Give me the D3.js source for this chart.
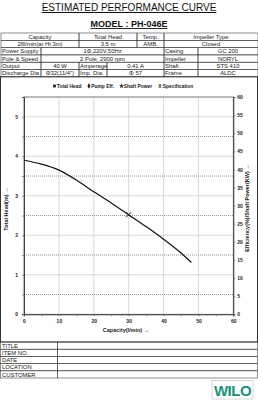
<!DOCTYPE html>
<html>
<head>
<meta charset="utf-8">
<script src="https://cdn.jsdelivr.net/npm/d3@7"></script>
<style>
  body { margin: 0; background: #fff; }
  svg { display: block; }
</style>
</head>
<body>
<script>
// head curve (capacity l/min, head m)
var capacity = [0, 5, 10, 15, 20, 25, 30, 35, 40, 45, 48];
var head = [3.9, 3.8, 3.65, 3.4, 3.1, 2.82, 2.52, 2.22, 1.9, 1.55, 1.31];
var spec = [30, 2.52];

var headTicks = [0, 1, 2, 3, 4, 5];
var rightTicks = [0, 5, 10, 15, 20, 25, 30, 35, 40, 45, 50, 55, 60];
var capTicks = [0, 10, 20, 30, 40, 50, 60];

var legendNames = ["Total Head", "Pump Eff.", "Shaft Power", "X Specification"];
var legendSyms = [d3.symbolSquare, d3.symbolDiamond, d3.symbolStar, null];

var specRows = [
  [["Capacity", 78], ["Total Head", 58], ["Temp.", 27], ["Impeller Type", 94]],
  [["28l/min(at Ht 3m)", 78], ["3.5 m", 58], ["AMB.", 27], ["Closed", 94]],
  [["Power Supply", 40, "l"], ["1Φ,220V,50Hz", 123], ["Casing", 34, "l"], ["GC 200", 60]],
  [["Pole & Speed", 40, "l"], ["2 Pole, 2900 rpm", 123], ["Impeller", 34, "l"], ["NORYL", 60]],
  [["Output", 40, "l"], ["40 W", 38], ["Amperage", 28, "l"], ["0.41 A", 57], ["Shaft", 34, "l"], ["STS 410", 60]],
  [["Discharge Dia", 40, "l"], ["Φ32(11/4\")", 38], ["Imp. Dia.", 28, "l"], ["Φ 57", 57], ["Frame", 34, "l"], ["ALDC", 60]]
];
var footRows = ["TITLE", "ITEM NO.", "DATE", "LOCATION", "CUSTOMER"];

var W = 258, H = 400;
var svg = d3.select("body").append("svg").attr("width", W).attr("height", H);
var tf = "'Liberation Sans', Arial, sans-serif";

// titles
svg.append("text").attr("x", 129).attr("y", 11).attr("text-anchor", "middle")
  .attr("font-family", tf).attr("font-size", 10).attr("fill", "#111")
  .attr("text-decoration", "underline").text("ESTIMATED PERFORMANCE CURVE");
svg.append("text").attr("x", 129).attr("y", 27).attr("text-anchor", "middle")
  .attr("font-family", tf).attr("font-size", 9).attr("font-weight", "bold").attr("fill", "#111")
  .attr("text-decoration", "underline").text("MODEL : PH-046E");

// spec table
var tTop = 33, rowH = 7.3, tX = 1;
specRows.forEach(function(row, i) {
  var x = tX, y = tTop + i * rowH;
  row.forEach(function(c) {
    svg.append("rect").attr("x", x).attr("y", y).attr("width", c[1]).attr("height", rowH)
      .attr("fill", "none").attr("stroke", "#444").attr("stroke-width", 0.6);
    svg.append("text")
      .attr("x", c[2] === "l" ? x + 1 : x + c[1] / 2)
      .attr("y", y + rowH / 2 + 2.1)
      .attr("text-anchor", c[2] === "l" ? "start" : "middle")
      .attr("font-family", tf).attr("font-size", 5.9).attr("fill", "#222").text(c[0]);
    x += c[1];
  });
});

// scales
var x = d3.scaleLinear().domain([0, 60]).range([24, 233.3]);
var yL = d3.scaleLinear().domain([0, 5.5]).range([314.3, 97]);
var yR = d3.scaleLinear().domain([0, 60]).range([314.3, 97]);

// grid
var g = svg.append("g");
g.selectAll(".vg").data(capTicks.slice(1, -1)).enter().append("line")
  .attr("x1", x).attr("x2", x).attr("y1", yL(0)).attr("y2", yL(5.5))
  .attr("stroke", "#c8c8c8").attr("stroke-width", 0.7);
g.selectAll(".hg").data(headTicks.slice(1)).enter().append("line")
  .attr("x1", x(0)).attr("x2", x(60)).attr("y1", yL).attr("y2", yL)
  .attr("stroke", "#c8c8c8").attr("stroke-width", 0.7);
g.selectAll(".hd").data([0.5, 1.5, 2.5, 3.5, 4.5]).enter().append("line")
  .attr("x1", x(0)).attr("x2", x(60)).attr("y1", yL).attr("y2", yL)
  .attr("stroke", "#777").attr("stroke-width", 0.8).attr("stroke-dasharray", "1,1");

// plot frame
svg.append("rect").attr("x", x(0)).attr("y", yL(5.5))
  .attr("width", x(60) - x(0)).attr("height", yL(0) - yL(5.5))
  .attr("fill", "none").attr("stroke", "#555").attr("stroke-width", 0.8);

// axes
var axL = svg.append("g").attr("transform", "translate(" + x(0) + ",0)")
  .call(d3.axisLeft(yL).tickValues(d3.range(0, 5.51, 0.5)).tickSize(2)
    .tickFormat(function(d) { return d % 1 === 0 ? d : ""; }));
var axR = svg.append("g").attr("transform", "translate(" + x(60) + ",0)")
  .call(d3.axisRight(yR).tickValues(rightTicks).tickSize(2));
var axB = svg.append("g").attr("transform", "translate(0," + yL(0) + ")")
  .call(d3.axisBottom(x).tickValues(d3.range(0, 61, 5)).tickSize(2)
    .tickFormat(function(d) { return d % 10 === 0 ? d : ""; }));
[axL, axR, axB].forEach(function(a) {
  a.select(".domain").attr("stroke", "#333").attr("stroke-width", 0.9);
  a.selectAll(".tick line").attr("stroke", "#555").attr("stroke-width", 0.6);
  a.selectAll("text").attr("font-family", tf).attr("font-size", 5).attr("font-weight", "bold").attr("fill", "#222");
});
axL.selectAll("text").attr("x", -6);
axR.selectAll("text").attr("x", 4);
axB.selectAll("text").attr("y", 5);

// axis titles
svg.append("text").attr("transform", "translate(8,209) rotate(-90)").attr("text-anchor", "middle")
  .attr("font-family", tf).attr("font-size", 5.5).attr("font-weight", "bold").attr("fill", "#222")
  .text("Total Head(m) →");
svg.append("text").attr("transform", "translate(249,208) rotate(-90)").attr("text-anchor", "middle")
  .attr("font-family", tf).attr("font-size", 5.5).attr("font-weight", "bold").attr("fill", "#222")
  .text("Efficiency(%)/Shaft Power(KW) →");
svg.append("text").attr("x", 126).attr("y", 332).attr("text-anchor", "middle")
  .attr("font-family", tf).attr("font-size", 5.5).attr("font-weight", "bold").attr("fill", "#222")
  .text("Capacity(l/min) →");

// legend, laid out left to right
var lx = 53;
legendNames.forEach(function(n, i) {
  if (legendSyms[i]) {
    svg.append("path").attr("transform", "translate(" + (lx + 1.5) + ",86)")
      .attr("d", d3.symbol().type(legendSyms[i]).size(8)()).attr("fill", "#222");
    lx += 3.8;
  }
  var t = svg.append("text").attr("x", lx).attr("y", 88)
    .attr("font-family", tf).attr("font-size", 4.9).attr("font-weight", "bold").attr("fill", "#222")
    .text(n);
  lx += t.node().getComputedTextLength() + 6;
});

// head curve
var pts = capacity.map(function(c, i) { return [c, head[i]]; });
svg.append("path").datum(pts)
  .attr("d", d3.line().x(function(d) { return x(d[0]); }).y(function(d) { return yL(d[1]); })
    .curve(d3.curveMonotoneX))
  .attr("fill", "none").attr("stroke", "#111").attr("stroke-width", 1.2);

// spec marker
var sx = x(spec[0]), sy = yL(spec[1]), s = 2.5;
svg.append("path").attr("d", "M" + (sx - s) + "," + (sy - s) + "L" + (sx + s) + "," + (sy + s) +
  "M" + (sx + s) + "," + (sy - s) + "L" + (sx - s) + "," + (sy + s))
  .attr("stroke", "#111").attr("stroke-width", 1);

// outer frame around chart area
svg.append("rect").attr("x", 0.5).attr("y", tTop + 6 * rowH).attr("width", 257)
  .attr("height", 342 - (tTop + 6 * rowH)).attr("fill", "none").attr("stroke", "#333").attr("stroke-width", 1);

// footer table
var fTop = 342, fH = 7.2;
footRows.forEach(function(r, i) {
  var y = fTop + i * fH;
  svg.append("rect").attr("x", 0.5).attr("y", y).attr("width", 57.2).attr("height", fH)
    .attr("fill", "none").attr("stroke", "#444").attr("stroke-width", 0.6);
  svg.append("rect").attr("x", 57.7).attr("y", y).attr("width", 199.8).attr("height", fH)
    .attr("fill", "none").attr("stroke", "#444").attr("stroke-width", 0.6);
  svg.append("text").attr("x", 2).attr("y", y + fH / 2 + 2.1)
    .attr("font-family", tf).attr("font-size", 5.9).attr("fill", "#222").text(r);
});

// logo
svg.append("rect").attr("x", 212).attr("y", 380.5).attr("width", 41).attr("height", 18.5)
  .attr("fill", "#fff").attr("stroke", "#bbb").attr("stroke-width", 0.6);
svg.append("text").attr("x", 232.5).attr("y", 395.5).attr("text-anchor", "middle")
  .attr("font-family", tf).attr("font-size", 15).attr("font-weight", "bold").attr("fill", "#14957a")
  .attr("letter-spacing", -0.5).text("WILO");
</script>
</body>
</html>
